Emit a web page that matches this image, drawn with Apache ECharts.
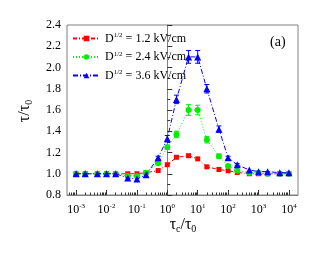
<!DOCTYPE html>
<html><head><meta charset="utf-8">
<script src="https://cdn.jsdelivr.net/npm/echarts@6/dist/echarts.min.js"></script>
<style>html,body{margin:0;padding:0;background:#fff}#c{width:316px;height:254px}</style>
</head><body><div id="c"></div>
<script>
const xVals = [0.001,0.002,0.005,0.01,0.02,0.05,0.1,0.2,0.5,1,2,5,10,20,50,100,200,500,1000,2000,5000,10000];
const red   = [1,1,1,1,1,1.0,1.0,1.01,1.03,1.085,1.155,1.17,1.14,1.065,1.04,1.028,1.012,1.0,1.0,1.0,1.0,1.0];
const green = [1,1,1,1,1,0.98,0.98,1.01,1.1,1.25,1.37,1.6,1.6,1.32,1.165,1.072,1.028,1.01,1.01,1.0,1.0,1.0];
const blue  = [1,1,1,1,1,0.96,0.95,0.99,1.15,1.33,1.7,2.1,2.1,1.8,1.42,1.15,1.085,1.035,1.02,1.02,1.01,1.01];
const greenErr = [0,0,0,0,0,0,0,0,0.01,0.02,0.03,0.05,0.045,0.03,0.02,0.01,0,0,0,0,0,0];
const blueErr  = [0,0,0,0,0,0,0,0,0.015,0.03,0.04,0.06,0.06,0.04,0.03,0.015,0.01,0,0,0,0,0];
const names = ['1.2','2.4','3.6'];
const yTicks = [0.8,1.0,1.2,1.4,1.6,1.8,2.0,2.2,2.4];
const xExp = [-3,-2,-1,0,1,2,3,4];

const FONT = 'Liberation Serif';
const lg = v => Math.log10(v);
const minorX = [];
for (let e = -4; e <= 4; e++) for (let k = 2; k <= 9; k++) { const v = e + Math.log10(k); if (v > -3.3 && v < 4.3) minorX.push(v); }

function pts(arr){ return xVals.map((x,i)=>[lg(x), arr[i]]); }
function errData(arr, err){ const d=[]; xVals.forEach((x,i)=>{ if(err[i]>0) d.push([lg(x), arr[i]-err[i], arr[i]+err[i]]); }); return d; }
function errSeries(arr, err, color){
  return {type:'custom', silent:true, z:1, data: errData(arr,err), encode:{x:0,y:[1,2]},
    renderItem:function(params, api){
      const lo = api.coord([api.value(0), api.value(1)]);
      const hi = api.coord([api.value(0), api.value(2)]);
      const w = 2.5;
      const st = {stroke: color, lineWidth: 1};
      return {type:'group', children:[
        {type:'line', shape:{x1:lo[0],y1:lo[1],x2:hi[0],y2:hi[1]}, style:st},
        {type:'line', shape:{x1:lo[0]-w,y1:lo[1],x2:lo[0]+w,y2:lo[1]}, style:st},
        {type:'line', shape:{x1:hi[0]-w,y1:hi[1],x2:hi[0]+w,y2:hi[1]}, style:st}
      ]};
    }};
}
const legendRich = {n:{fontFamily:FONT,fontSize:12,color:'#000'}, s:{fontFamily:FONT,fontSize:7,color:'#000',verticalAlign:'top',padding:[0,0,6,0]}};
const chart = echarts.init(document.getElementById('c'), null, {renderer:'canvas'});
const colors = ['#ff0000','#00ee00','#0000ff'];
chart.setOption({
  animation:false,
  grid:{left:67,right:18,top:25,bottom:59,show:true,borderColor:'#808080',borderWidth:1},
  legend:{left:67,top:27,orient:'vertical',itemWidth:27,itemHeight:7,itemGap:6,
    textStyle:{fontFamily:FONT,fontSize:12,color:'#000',rich:legendRich},
    formatter:function(n){ return '{n|D}{s|1/2}{n| = '+n.replace('D','')+' kV/cm}'; },
    data:names.map(n=>'D'+n)},
  xAxis:[{type:'value',min:-3.3,max:4.3,
    axisLine:{show:true,lineStyle:{color:'#808080'}},
    splitLine:{show:false},
    axisTick:{inside:true,length:5,customValues:xExp,lineStyle:{color:'#333'}},
    axisLabel:{customValues:xExp,margin:8,fontFamily:FONT,color:'#000',
      formatter:function(v){return '{b|10}{s|'+Math.round(v)+'}';},
      rich:{b:{fontFamily:FONT,fontSize:12,color:'#000'},s:{fontFamily:FONT,fontSize:7,color:'#000',verticalAlign:'top',padding:[0,0,6,0]}}}},
   {type:'value',min:-3.3,max:4.3,position:'bottom',
    axisLine:{show:false},splitLine:{show:false},axisLabel:{show:false},
    axisTick:{inside:true,length:2.5,customValues:minorX,lineStyle:{color:'#333'}}}],
  yAxis:{type:'value',min:0.8,max:2.4,interval:0.2,
    axisLine:{show:true,lineStyle:{color:'#808080'}},
    splitLine:{show:false},
    axisTick:{inside:true,length:5,lineStyle:{color:'#333'}},
    minorTick:{show:true,splitNumber:2,length:3,lineStyle:{color:'#333'}},
    axisLabel:{margin:6,fontFamily:FONT,fontSize:12,color:'#000',formatter:v=>v.toFixed(1)}},
  series:[
    errSeries(green, greenErr, colors[1]),
    errSeries(blue, blueErr, colors[2]),
    {name:'D1.2',type:'line',data:pts(red),symbol:'rect',symbolSize:5,z:3,
      itemStyle:{color:colors[0]},lineStyle:{color:colors[0],width:1,type:[4,2,1,2]}},
    {name:'D2.4',type:'line',data:pts(green),symbol:'circle',symbolSize:6,z:4,
      itemStyle:{color:colors[1]},lineStyle:{color:colors[1],width:1,type:[1,2]}},
    {name:'D3.6',type:'line',data:pts(blue),symbol:'triangle',symbolSize:7,z:5,
      itemStyle:{color:colors[2]},lineStyle:{color:colors[2],width:1,type:[5,2,1,2]}}
  ],
  graphic:[
    {type:'text',left:270,top:35,style:{text:'(a)',font:'14px '+FONT,fill:'#000'}},
    {type:'text',x:183,y:234,style:{text:'{t|τ}{sb|c}{t|/τ}{sb|0}',align:'center',verticalAlign:'bottom',
      rich:{t:{fontFamily:FONT,fontSize:16,color:'#000'},sb:{fontFamily:FONT,fontSize:10,color:'#000',verticalAlign:'bottom',padding:[8,0,0,0]}}}},
    {type:'text',x:25,y:111,rotation:Math.PI/2,style:{text:'{t|τ/τ}{sb|0}',align:'center',verticalAlign:'middle',
      rich:{t:{fontFamily:FONT,fontSize:16,color:'#000'},sb:{fontFamily:FONT,fontSize:10,color:'#000',verticalAlign:'bottom',padding:[8,0,0,0]}}}}
  ]
});
</script></body></html>
